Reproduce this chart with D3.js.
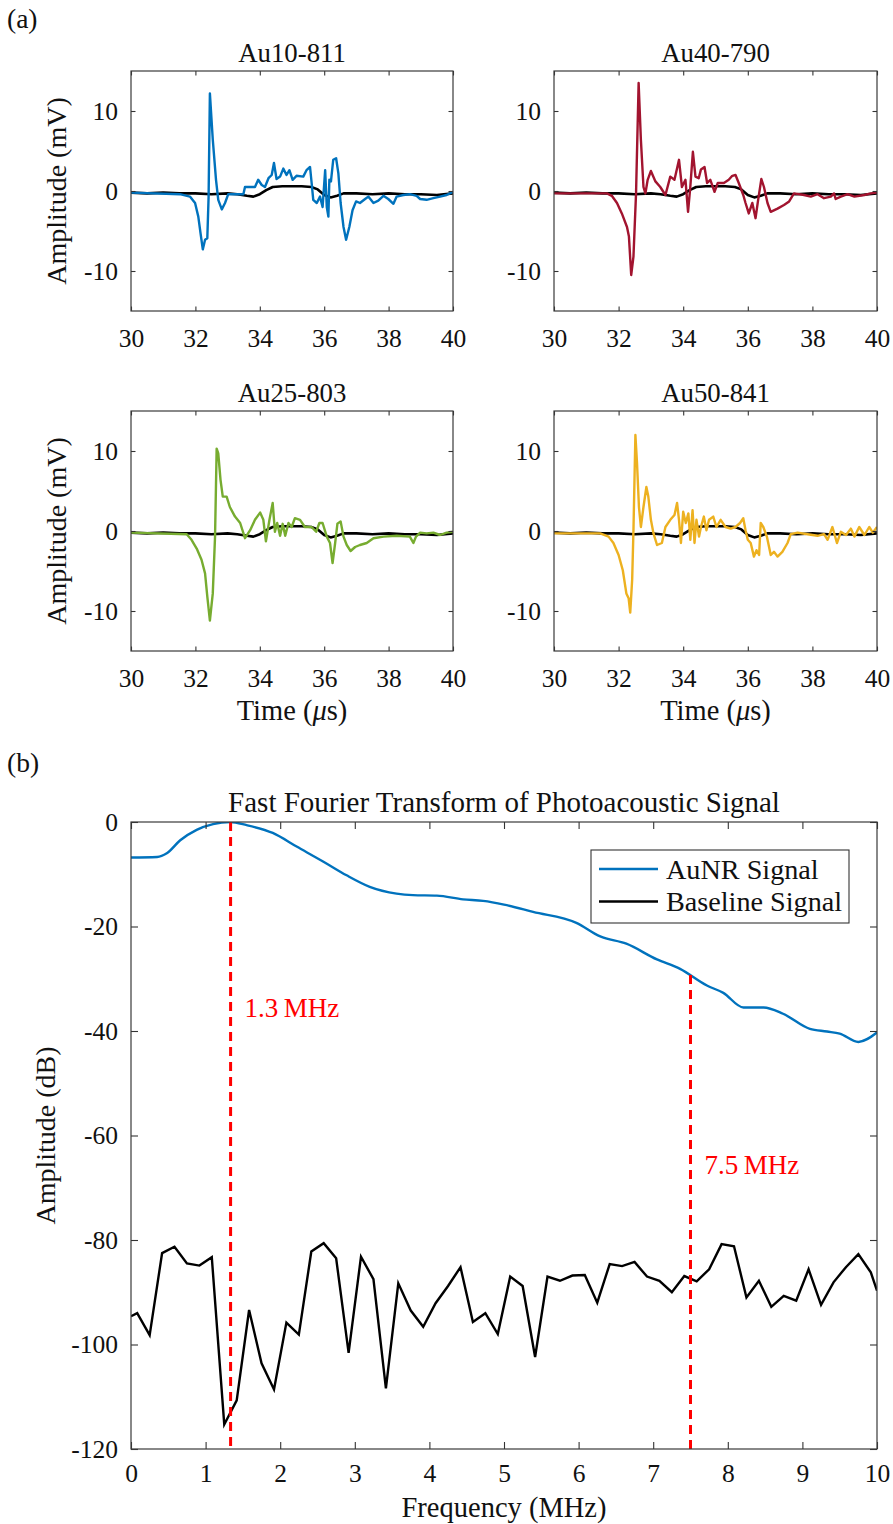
<!DOCTYPE html>
<html><head><meta charset="utf-8">
<script src="https://cdn.jsdelivr.net/npm/d3@7"></script>
<style>body{margin:0;background:#fff}</style>
</head><body><svg id="c" width="893" height="1524"></svg>
<script>
// ---------- DATA ----------
const timeTicks = [30, 32, 34, 36, 38, 40];
const ampTicks = [-10, 0, 10];
const freqTicks = [0,1,2,3,4,5,6,7,8,9,10];
const dbTicks = [-120,-100,-80,-60,-40,-20,0];

const baseTime = [30,30.5,31,31.5,32,32.5,33,33.3,33.6,33.8,34.0,34.2,34.4,34.7,35.0,35.3,35.6,35.8,36.0,36.2,36.4,36.6,37,37.5,38,38.5,39,39.5,40];
const baseAmp  = [-0.2,-0.3,-0.2,-0.3,-0.3,-0.4,-0.3,-0.4,-0.6,-0.7,-0.4,0.1,0.5,0.6,0.6,0.6,0.5,0.2,-0.5,-0.8,-0.6,-0.3,-0.3,-0.4,-0.3,-0.4,-0.4,-0.5,-0.3];

const timeAu10 = [30,31.52,31.83,31.99,32.09,32.16,32.23,32.30,32.37,32.41,32.45,32.54,32.64,32.71,32.82,32.92,33.02,33.49,33.54,33.85,33.95,34.06,34.16,34.27,34.37,34.44,34.52,34.63,34.73,34.83,34.92,35.02,35.14,35.35,35.45,35.56,35.61,35.66,35.77,35.87,35.95,36.03,36.08,36.13,36.16,36.21,36.28,36.37,36.44,36.51,36.60,36.68,36.78,36.88,36.99,37.11,37.27,37.37,37.53,37.68,37.84,37.99,38.15,38.25,38.46,38.66,38.87,38.98,39.18,39.39,39.60,39.80,40.0];
const ampAu10  = [-0.2,-0.4,-0.7,-1.5,-3.2,-5.3,-7.3,-6.1,-5.9,-0.7,12.2,6.4,1.4,-1.1,-2.3,-1.5,-0.4,-0.4,0.5,0.5,1.4,0.75,0.5,1.6,2.0,3.5,1.5,1.8,2.8,2.0,2.6,1.4,1.9,1.8,2.6,3.0,1.0,-1.1,-1.5,-0.7,-2.0,2.6,-2.0,-3.2,1.4,1.2,3.9,4.1,2.2,-1.5,-4.5,-6.1,-4.5,-2.4,-1.3,-1.5,-1.0,-0.7,-1.5,-1.2,-0.6,-1.0,-1.6,-0.7,-0.5,-0.4,-0.6,-1.0,-1.1,-0.9,-0.7,-0.5,-0.1];

const timeAu40 = [30,31.64,31.79,31.95,32.10,32.26,32.32,32.39,32.46,32.54,32.62,32.69,32.77,32.83,32.90,33.00,33.14,33.29,33.45,33.60,33.73,33.87,33.96,34.07,34.15,34.22,34.30,34.38,34.48,34.55,34.66,34.74,34.84,34.97,35.07,35.26,35.41,35.52,35.62,35.72,35.86,35.93,36.03,36.14,36.24,36.32,36.42,36.50,36.61,36.71,36.92,37.12,37.28,37.43,37.74,37.95,38.16,38.36,38.57,38.67,38.72,38.88,39.09,39.30,39.61,39.81,40];
const ampAu40  = [-0.3,-0.3,-0.6,-1.5,-2.8,-4.5,-5.7,-10.5,-8.2,-0.3,13.5,6.4,0.5,-0.3,1.4,2.5,1.2,0.5,-0.5,1.8,1.4,3.9,0.5,1.4,-2.6,0.5,4.9,1.8,1.6,2.7,3.0,1.0,1.4,-0.1,1.0,1.0,1.4,1.9,2.0,1.0,-0.5,-1.5,-2.8,-1.5,-3.4,-1.1,1.5,0.5,-1.5,-2.6,-2.2,-1.75,-1.3,-0.3,-0.5,-0.7,-0.4,-0.9,-0.7,-0.3,-1.0,-0.7,-0.4,-0.7,-0.5,-0.3,-0.2];

const timeAu25 = [30,31.73,31.88,32.04,32.19,32.30,32.37,32.45,32.54,32.61,32.66,32.71,32.78,32.85,32.97,33.07,33.23,33.39,33.54,33.70,33.85,34.01,34.11,34.19,34.30,34.40,34.47,34.54,34.63,34.71,34.79,34.89,34.99,35.09,35.25,35.40,35.61,35.75,35.85,35.95,36.08,36.18,36.26,36.34,36.41,36.51,36.60,36.70,36.82,36.96,37.11,37.32,37.53,37.84,38.25,38.66,38.77,38.85,38.98,39.18,39.39,39.60,39.80,40];
const ampAu25  = [-0.2,-0.4,-1.1,-2.2,-3.6,-5.3,-8.2,-11.2,-7.8,-0.7,10.3,9.7,6.4,4.3,4.3,3.0,1.8,1.0,-0.9,0.1,1.4,2.3,1.4,-1.3,1.4,3.5,-0.1,1.0,-0.6,0.9,-0.6,1.0,0.5,1.6,1.4,0.5,0.5,-0.1,1.0,1.0,-0.7,-1.5,-4.0,-1.5,0.9,1.2,-0.7,-1.75,-2.5,-2.0,-1.75,-1.5,-0.9,-0.7,-0.6,-0.7,-1.5,-0.7,-0.2,-0.3,-0.2,-0.5,-0.2,-0.1];

const timeAu50 = [30,31.43,31.69,31.84,32.00,32.13,32.24,32.31,32.36,32.42,32.46,32.52,32.57,32.63,32.69,32.77,32.86,32.92,33.00,33.08,33.19,33.34,33.45,33.60,33.73,33.81,33.87,33.93,34.00,34.08,34.16,34.22,34.29,34.35,34.41,34.49,34.55,34.64,34.72,34.80,34.93,35.03,35.16,35.31,35.47,35.62,35.76,35.86,35.93,36.00,36.09,36.19,36.27,36.35,36.40,36.48,36.59,36.71,36.81,36.92,37.07,37.23,37.33,37.54,37.85,38.16,38.36,38.47,38.62,38.76,38.88,39.04,39.19,39.30,39.45,39.61,39.76,39.87,40.0];
const ampAu50  = [-0.3,-0.3,-0.7,-1.5,-3.0,-4.9,-7.8,-8.4,-10.2,-6.1,0.1,12.0,8.5,3.0,0.5,3.0,5.5,4.3,1.4,-0.3,-1.75,-1.5,0.5,1.4,2.0,3.5,1.4,-1.5,2.4,1.0,2.2,-1.1,2.6,-1.5,1.4,-0.7,0.5,1.8,0.1,1.4,1.8,0.5,1.4,0.5,0.3,0.5,1.0,1.6,0.1,-1.1,-1.5,-3.2,-2.4,-3.0,1.0,0.5,-0.7,-3.0,-2.6,-3.2,-2.6,-1.5,-0.4,-0.2,-0.4,-0.6,-0.4,-1.1,0.5,-1.5,-0.1,-0.5,0.3,-0.7,0.5,-0.5,0.5,-0.2,0.5];

const panelNames  = ["Au10-811","Au40-790","Au25-803","Au50-841"];
const panelColors = ["#0072BD","#A2142F","#77AC30","#EDB120"];

const fftFreqAuNR = [0,0.35,0.48,0.66,0.88,1.1,1.33,1.55,1.9,2.22,2.58,2.89,3.2,3.56,3.78,4.1,4.45,4.72,5.0,5.39,5.97,6.29,6.64,7.05,7.36,7.72,7.94,8.21,8.48,8.74,9.1,9.33,9.5,9.75,10];
const fftDbAuNR   = [-6.8,-6.7,-6.0,-3.5,-1.5,-0.4,0,-0.6,-2.1,-4.7,-7.6,-10.2,-12.4,-13.7,-14.0,-14.1,-14.8,-15.1,-15.8,-17.2,-19.3,-21.9,-23.3,-26.3,-28.1,-31.3,-32.7,-35.5,-35.5,-36.7,-39.6,-40.1,-40.5,-42.1,-40.3];

const fftFreqBase = [0,0.083,0.25,0.417,0.583,0.75,0.917,1.083,1.25,1.417,1.583,1.75,1.917,2.083,2.25,2.417,2.583,2.75,2.917,3.083,3.25,3.417,3.583,3.75,3.917,4.083,4.25,4.417,4.583,4.75,4.917,5.083,5.25,5.417,5.583,5.75,5.917,6.083,6.25,6.417,6.583,6.75,6.917,7.083,7.25,7.417,7.583,7.75,7.917,8.083,8.25,8.417,8.583,8.75,8.917,9.083,9.25,9.417,9.583,9.75,9.917,10];
const fftDbBase   = [-94.6,-94.0,-98.2,-82.5,-81.3,-84.5,-84.9,-83.3,-115.3,-110.7,-93.4,-103.6,-108.6,-95.8,-98.1,-82.2,-80.6,-83.5,-101.6,-83.2,-87.5,-108.4,-88.3,-93.5,-96.6,-92.1,-88.8,-85.2,-95.7,-94.0,-98.0,-87.0,-88.8,-102.4,-87.0,-87.8,-86.8,-86.7,-92.0,-84.6,-85.0,-84.2,-87.0,-87.8,-90.0,-86.9,-87.9,-85.6,-80.8,-81.2,-91.0,-87.8,-92.8,-90.7,-91.6,-85.6,-92.4,-88.1,-85.2,-82.7,-86.2,-89.7];

const markerFreq  = [1.335, 7.5];
const markerTopDb = [0, -29.3];
const markerLabels = ["1.3\u2009MHz", "7.5\u2009MHz"];
const markerLabelDb = [-37.4, -67.4];
const legendLabels = ["AuNR Signal", "Baseline Signal"];

// ---------- DRAW ----------
const FONT = "'Liberation Serif', 'Times New Roman', Times, serif";
const svg = d3.select("#c").style("font-family", FONT);
const fmt = d => d < 0 ? "-" + Math.abs(d) : String(d);
let clipId = 0;

function makeAxes(o) {
  const x = d3.scaleLinear().domain(o.xDomain).range([o.x0, o.x1]);
  const y = d3.scaleLinear().domain(o.yDomain).range([o.y1, o.y0]);
  const g = svg.append("g");
  const id = "clip" + (clipId++);
  svg.append("clipPath").attr("id", id).append("rect")
    .attr("x", o.x0).attr("y", o.y0).attr("width", o.x1 - o.x0).attr("height", o.y1 - o.y0);
  const plot = g.append("g").attr("clip-path", `url(#${id})`);
  return {x, y, g, plot, o};
}

function finishAxes(p, showX, xPad, yPad) {
  const o = p.o, tl = o.tl;
  const style = sel => {
    sel.attr("font-family", null).attr("font-size", null);
    sel.select(".domain").remove();
    sel.selectAll(".tick line").attr("stroke", "#333").attr("stroke-width", 1.1);
    sel.selectAll(".tick text").style("font-size", o.tickFs + "px").attr("fill", "#111");
  };
  p.g.append("g").attr("transform", `translate(0,${o.y1})`)
    .call(d3.axisBottom(p.x).tickValues(o.xTicks).tickSize(-tl).tickPadding(xPad).tickFormat(showX ? fmt : ""))
    .call(style);
  p.g.append("g").attr("transform", `translate(0,${o.y0})`)
    .call(d3.axisTop(p.x).tickValues(o.xTicks).tickSize(-tl).tickFormat(""))
    .call(style);
  p.g.append("g").attr("transform", `translate(${o.x0},0)`)
    .call(d3.axisLeft(p.y).tickValues(o.yTicks).tickSize(-tl).tickPadding(yPad).tickFormat(fmt))
    .call(style);
  p.g.append("g").attr("transform", `translate(${o.x1},0)`)
    .call(d3.axisRight(p.y).tickValues(o.yTicks).tickSize(-tl).tickFormat(""))
    .call(style);
  p.g.append("rect").attr("x", o.x0).attr("y", o.y0)
    .attr("width", o.x1 - o.x0).attr("height", o.y1 - o.y0)
    .attr("fill", "none").attr("stroke", "#3a3a3a").attr("stroke-width", 1.2);
}

// Panel (a)
svg.append("text").attr("x", 7).attr("y", 28).style("font-size", "27.5px").text("(a)");

const series = [[timeAu10, ampAu10], [timeAu40, ampAu40], [timeAu25, ampAu25], [timeAu50, ampAu50]];
const colX = [[131, 453], [554, 877]];
const rowY = [[71, 311], [411, 651]];

series.forEach((s, i) => {
  const col = i % 2, row = Math.floor(i / 2);
  const p = makeAxes({x0: colX[col][0], x1: colX[col][1], y0: rowY[row][0], y1: rowY[row][1],
    xDomain: [30, 40], yDomain: [-15, 15], xTicks: timeTicks, yTicks: ampTicks, tl: 4.5, tickFs: 25.5});
  const line = d3.line().x(d => p.x(d[0])).y(d => p.y(d[1]));
  p.plot.append("path").datum(d3.zip(baseTime, baseAmp)).attr("d", line)
    .attr("fill", "none").attr("stroke", "#000").attr("stroke-width", 2.6).attr("stroke-linejoin", "round");
  p.plot.append("path").datum(d3.zip(s[0], s[1])).attr("d", line)
    .attr("fill", "none").attr("stroke", panelColors[i]).attr("stroke-width", 2.4).attr("stroke-linejoin", "round");
  finishAxes(p, true, 18, 13);
  const cx = (colX[col][0] + colX[col][1]) / 2;
  svg.append("text").attr("x", cx).attr("y", rowY[row][0] - 9).attr("text-anchor", "middle")
    .style("font-size", "26.8px").text(panelNames[i]);
  if (col === 0) {
    svg.append("text").attr("transform", `translate(66,${(rowY[row][0] + rowY[row][1]) / 2}) rotate(-90)`)
      .attr("text-anchor", "middle").style("font-size", "28px").text("Amplitude (mV)");
  }
  if (row === 1) {
    const t = svg.append("text").attr("x", cx).attr("y", 720).attr("text-anchor", "middle").style("font-size", "28.5px");
    t.append("tspan").text("Time (");
    t.append("tspan").attr("font-style", "italic").text("\u03bc");
    t.append("tspan").text("s)");
  }
});

// Panel (b)
svg.append("text").attr("x", 7).attr("y", 772).style("font-size", "27.5px").text("(b)");

const pf = makeAxes({x0: 131, x1: 877, y0: 822, y1: 1449, xDomain: [0, 10], yDomain: [-120, 0],
  xTicks: freqTicks, yTicks: dbTicks, tl: 7, tickFs: 25.5});
const fl = d3.line().x(d => pf.x(d[0])).y(d => pf.y(d[1]));
pf.plot.append("path").datum(d3.zip(fftFreqAuNR, fftDbAuNR)).attr("d", fl.curve(d3.curveMonotoneX))
  .attr("fill", "none").attr("stroke", "#0072BD").attr("stroke-width", 2.4);
const fl2 = d3.line().x(d => pf.x(d[0])).y(d => pf.y(d[1]));
pf.plot.append("path").datum(d3.zip(fftFreqBase, fftDbBase)).attr("d", fl2)
  .attr("fill", "none").attr("stroke", "#000").attr("stroke-width", 2.4).attr("stroke-linejoin", "miter");
markerFreq.forEach((f, i) => {
  pf.plot.append("line").attr("x1", pf.x(f)).attr("x2", pf.x(f))
    .attr("y1", pf.y(markerTopDb[i])).attr("y2", pf.y(-120))
    .attr("stroke", "#FF0000").attr("stroke-width", 3).attr("stroke-dasharray", "9,6");
  svg.append("text").attr("class", "red").attr("x", pf.x(f) + 14).attr("y", pf.y(markerLabelDb[i]))
    .style("font-size", "27px").text(markerLabels[i]);
});
finishAxes(pf, true, 15, 13);

svg.append("text").attr("x", 504).attr("y", 812).attr("text-anchor", "middle")
  .style("font-size", "29px").text("Fast Fourier Transform of Photoacoustic Signal");
svg.append("text").attr("x", 504).attr("y", 1517).attr("text-anchor", "middle")
  .style("font-size", "28.5px").text("Frequency (MHz)");
svg.append("text").attr("transform", `translate(55,${(822 + 1449) / 2}) rotate(-90)`)
  .attr("text-anchor", "middle").style("font-size", "28px").text("Amplitude (dB)");

// Legend
const lg = svg.append("g");
lg.append("rect").attr("x", 591).attr("y", 850).attr("width", 258).attr("height", 73)
  .attr("fill", "#fff").attr("stroke", "#333").attr("stroke-width", 1.1);
const legColors = ["#0072BD", "#000"];
legendLabels.forEach((lab, i) => {
  const yy = 869 + i * 32.5;
  lg.append("line").attr("x1", 599).attr("x2", 658).attr("y1", yy).attr("y2", yy)
    .attr("stroke", legColors[i]).attr("stroke-width", 2.4);
  lg.append("text").attr("x", 666).attr("y", yy).attr("dy", "0.35em").style("font-size", "28.2px").text(lab);
});

// Apply font to every text explicitly
svg.selectAll("text").style("font-family", FONT).style("fill", "#111");
svg.selectAll("text.red").style("fill", "#FF0000");
</script>
</body></html>
